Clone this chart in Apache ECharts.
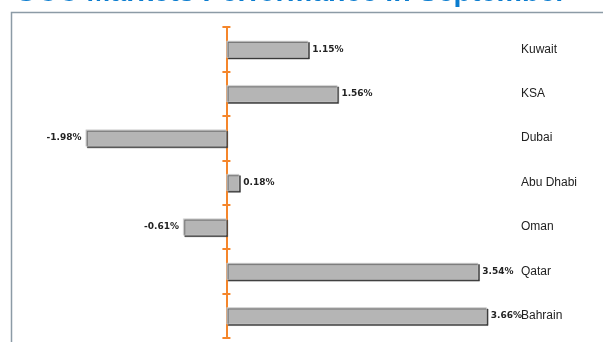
<!DOCTYPE html>
<html>
<head>
<meta charset="utf-8">
<script src="https://cdn.jsdelivr.net/npm/echarts@6/dist/echarts.min.js"></script>
<style>
  html, body { margin: 0; padding: 0; background: #fff; }
  #main { width: 603px; height: 342px; }
</style>
</head>
<body>
<div id="main"></div>
<script>
// markets, top to bottom
var markets = ['Kuwait', 'KSA', 'Dubai', 'Abu Dhabi', 'Oman', 'Qatar', 'Bahrain'];
// monthly change, %
var changes = [1.15, 1.56, -1.98, 0.18, -0.61, 3.54, 3.66];
var titleText = 'GCC Markets Performance in September';

var chart = echarts.init(document.getElementById('main'));

var orange = '#f5862b';
var gridLeft = 13, gridRight = 92, xMin = -3, xMax = 4;
// distance from the right edge of the grid to the zero line
var plotWidth = 603 - gridLeft - gridRight;
var zeroOffset = plotWidth * xMax / (xMax - xMin);

chart.setOption({
    animation: false,
    graphic: [
        {
            // title is cut off at the top of the picture
            type: 'text',
            left: 15,
            top: -21,
            style: {
                text: titleText,
                font: 'bold 28.6px "Liberation Sans", Arial, sans-serif',
                fill: '#0a7ccf'
            }
        },
        {
            // frame
            type: 'rect',
            shape: { x: 11.5, y: 12.5, width: 700, height: 400 },
            style: { fill: 'none', stroke: '#8c9ba6', lineWidth: 1.5 }
        }
    ],
    grid: {
        left: gridLeft,
        right: gridRight,
        top: 27,
        bottom: 4
    },
    xAxis: {
        type: 'value',
        min: xMin,
        max: xMax,
        show: false
    },
    yAxis: [
        {
            // zero line with ticks pointing left
            type: 'category',
            data: markets,
            inverse: true,
            position: 'left',
            axisLine: { onZero: true, lineStyle: { color: orange, width: 2 } },
            axisTick: { show: true, length: 4, lineStyle: { color: orange, width: 2 } },
            axisLabel: { show: false },
            splitLine: { show: false }
        },
        {
            // same ticks pointing right, moved back onto the zero line
            type: 'category',
            data: markets,
            inverse: true,
            position: 'right',
            offset: -zeroOffset,
            axisLine: { onZero: false, show: false },
            axisTick: { show: true, length: 4, lineStyle: { color: orange, width: 2 } },
            axisLabel: { show: false },
            splitLine: { show: false }
        },
        {
            // market names on the right
            type: 'category',
            data: markets,
            inverse: true,
            position: 'right',
            axisLine: { onZero: false, show: false },
            axisTick: { show: false },
            axisLabel: {
                margin: 10,
                color: '#222',
                fontSize: 12,
                fontFamily: '"Liberation Sans", Arial, sans-serif'
            },
            splitLine: { show: false }
        }
    ],
    series: [{
        type: 'bar',
        data: changes.map(function (v) {
            // negative bars get their label on the left
            return v < 0 ? { value: v, label: { position: 'left' } } : v;
        }),
        barWidth: 17,
        itemStyle: {
            color: '#b5b5b5',
            borderColor: '#d2d2d2',
            borderWidth: 0.5,
            shadowColor: '#3a3a3a',
            shadowOffsetX: 1.5,
            shadowOffsetY: 1.5,
            shadowBlur: 0
        },
        label: {
            show: true,
            position: 'right',
            distance: 4,
            color: '#222',
            fontSize: 9,
            fontWeight: 'bold',
            fontFamily: '"DejaVu Sans", Verdana, sans-serif',
            formatter: function (p) {
                return p.value.toFixed(2) + '%';
            }
        },
        z: 1
    }]
});
</script>
</body>
</html>
